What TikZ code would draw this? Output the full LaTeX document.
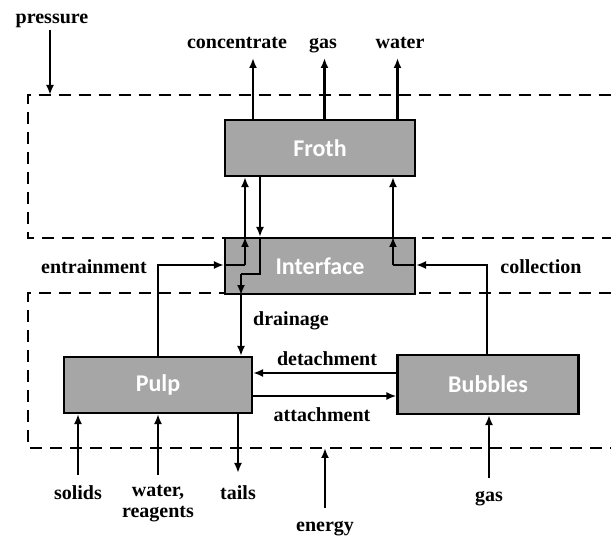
\documentclass[tikz,border=0pt]{standalone}
\usepackage{fontspec}
\setmainfont{Liberation Serif}
\newfontfamily\boxfont{Carlito}
\usetikzlibrary{arrows.meta,positioning}
\definecolor{boxgray}{HTML}{A6A6A6}

\begin{document}
\begin{tikzpicture}[x=1pt,y=-1pt,->,>={Latex[length=10pt,width=8pt]},line width=2.1pt,
    block/.style={draw,fill=boxgray,inner sep=0pt,text=white,font=\boxfont\bfseries\fontsize{24}{26}\selectfont},
    lbl/.style={inner sep=0pt,align=center,text height=15pt,text depth=3pt,font=\bfseries\fontsize{20}{21}\selectfont},
    zone/.style={-,dashed,dash pattern=on 12pt off 8pt,line width=2.1pt}]
    \useasboundingbox (0,0) rectangle (611,537);

    % control volumes
    \draw[zone] (611,95) -- (28,95) -- (28,238) -- (611,238);
    \draw[zone] (611,293) -- (28,293) -- (28,448) -- (611,448);

    % phases
    \node[block,minimum width=190pt,minimum height=56pt] (froth) at (320,148) {Froth};
    \node[block,minimum width=190pt,minimum height=56pt] (interface) at (320,266) {Interface};
    \node[block,minimum width=188pt,minimum height=56pt] (pulp) at (158,385) {Pulp};
    \node[block,minimum width=181pt,minimum height=59pt] (bubbles) at (488,384.5) {Bubbles};

    % labels
    \node[lbl] (pressure) at (52,18) {pressure};
    \node[lbl] (concentrate) at (237,43) {concentrate};
    \node[lbl] (gastop) at (323,43) {gas};
    \node[lbl] (water) at (400,43) {water};
    \node[lbl] (entrainment) at (94,268) {entrainment};
    \node[lbl] (collection) at (541,268) {collection};
    \node[lbl] (drainage) at (291,320) {drainage};
    \node[lbl] (detachment) at (327,360) {detachment};
    \node[lbl] (attachment) at (322,416) {attachment};
    \node[lbl] (solids) at (78,493) {solids};
    \node[lbl,text height=,text depth=] (reagents) at (158,504) {water,\\reagents};
    \node[lbl] (tails) at (238,493) {tails};
    \node[lbl] (energy) at (325,525) {energy};
    \node[lbl] (gasin) at (489,495) {gas};

    % free ends
    \coordinate (p0) at (50,30);
    \coordinate (p1) at (50,95);
    \coordinate (c1) at (253,58);
    \coordinate (g1) at (324.5,58);
    \coordinate (w1) at (397.5,58);
    \coordinate (e1) at (158,265);
    \coordinate (e2) at (245,265);
    \coordinate (d1) at (260,274);
    \coordinate (d2) at (241,274);
    \coordinate (k1) at (487,265);
    \coordinate (k2) at (393,265);
    \coordinate (s0) at (78,475);
    \coordinate (r0) at (158,475);
    \coordinate (t1) at (238,473);
    \coordinate (n0) at (325,508);
    \coordinate (n1) at (325,448);
    \coordinate (b0) at (489,478);

    % streams
    \draw (p0) -- (p1);
    \draw (froth.north -| c1) -- (c1);
    \draw (froth.north -| g1) -- (g1);
    \draw (froth.north -| w1) -- (w1);

    \draw (pulp.north -| e1) -- (e1) -- (interface.west |- e1);
    \draw[-] (interface.west |- e1) -- (e2);
    \draw (e2) -- (e2 |- interface.north);
    \draw (e2 |- interface.north) -- (e2 |- froth.south);

    \draw (froth.south -| d1) -- (interface.north -| d1);
    \draw[-] (interface.north -| d1) -- (d1) -- (d2);
    \draw (d2) -- (interface.south -| d2);
    \draw (interface.south -| d2) -- (pulp.north -| d2);

    \draw (bubbles.north -| k1) -- (k1) -- (interface.east |- k1);
    \draw[-] (interface.east |- k1) -- (k2);
    \draw (k2) -- (k2 |- interface.north);
    \draw (k2 |- interface.north) -- (k2 |- froth.south);

    \draw (bubbles.west |- 0,373) -- (pulp.east |- 0,373);
    \draw (pulp.east |- 0,396) -- (bubbles.west |- 0,396);

    \draw (s0) -- (s0 |- pulp.south);
    \draw (r0) -- (r0 |- pulp.south);
    \draw (pulp.south -| t1) -- (t1);
    \draw (n0) -- (n1);
    \draw (b0) -- (b0 |- bubbles.south);
\end{tikzpicture}
\end{document}
